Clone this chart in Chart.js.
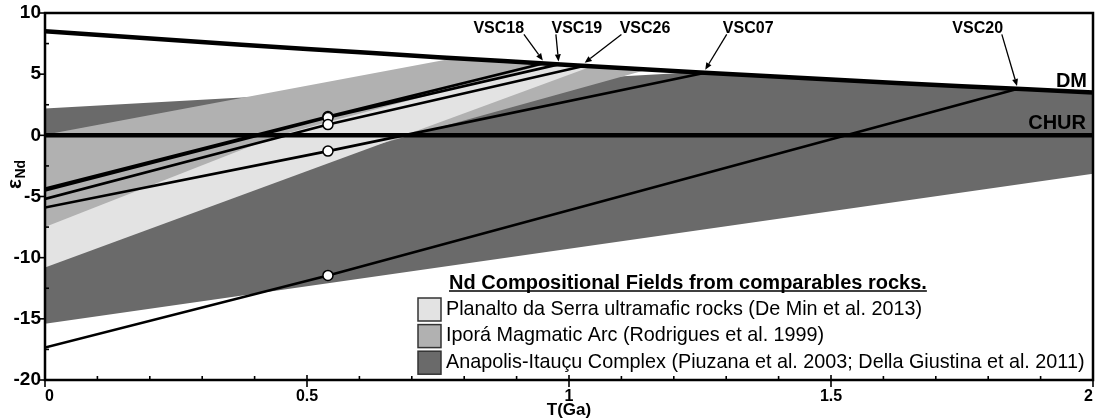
<!DOCTYPE html>
<html>
<head>
<meta charset="utf-8">
<script src="https://cdn.jsdelivr.net/npm/chart.js@4.4.1/dist/chart.umd.min.js"></script>
<style>
  html, body { margin: 0; padding: 0; background: #fff; }
  #wrap { width: 1095px; height: 418px; position: relative; }
</style>
</head>
<body>
<div id="wrap"><canvas id="c"></canvas></div>
<script>
// ---- Depleted mantle and CHUR reference curves ----
const dmAge = [0, 0.25, 0.5, 0.75, 1.0, 1.25, 1.5, 1.75, 2.0];
const dmEps = [8.5, 7.77, 7.06, 6.39, 5.75, 5.14, 4.56, 4.02, 3.5];
const churAge = [0, 2];
const churEps = [0, 0];

// ---- Samples: present-day eNd, eNd at crystallization age, model age on DM ----
const sampleIds  = ['VSC18', 'VSC19', 'VSC26', 'VSC07', 'VSC20'];
const epsPresent = [-4.35, -4.5, -5.2, -5.9, -17.35];
const crystAge   = [0.54, 0.54, 0.54, 0.54, 0.54];
const epsCryst   = [1.53, 1.45, 0.88, -1.29, -11.45];
const tdmAge     = [0.95, 0.98, 1.03, 1.26, 1.855];
const epsTdm     = [5.88, 5.80, 5.68, 5.12, 3.79];

// ---- Compositional fields (polygon outlines, T in Ga vs eNd) ----
const fieldNames = [
  'Planalto da Serra ultramafic rocks (De Min et al. 2013)',
  'Iporá Magmatic Arc (Rodrigues et al. 1999)',
  'Anapolis-Itauçu Complex (Piuzana et al. 2003; Della Giustina et al. 2011)'
];
const planaltoAge = [0, 0.44, 0.54, 0.96, 1.044, 0];
const planaltoEps = [-7.5, -0.1, 1.1, 5.85, 5.64, -10.8];
const iporaAge = [0, 0.78, 0.95, 1.15, 0];
const iporaEps = [0.05, 6.31, 5.88, 5.38, -8.31];
const anapolisAge = [0, 1.24, 1.5, 1.75, 2, 2, 0];
const anapolisEps = [2.19, 5.15, 4.56, 4.02, 3.5, -3.15, -15.4];

// ---- Axis ticks ----
const xTicks = [0, 0.5, 1, 1.5, 2];
const yTicks = [10, 5, 0, -5, -10, -15, -20];

// ---- Styling / placement (kept apart from the data) ----
const FONT = '"Liberation Sans", Arial, Helvetica, sans-serif';
const fieldColors = ['#e3e3e3', '#b1b1b1', '#6a6a6a'];
// callout label (baseline) and arrow-tail anchors, in axis units
const calloutPlacement = {
  VSC18: { labelT: 0.866, tailT: 0.914 },
  VSC19: { labelT: 1.015, tailT: 0.975 },
  VSC26: { labelT: 1.145, tailT: 1.100 },
  VSC07: { labelT: 1.342, tailT: 1.301 },
  VSC20: { labelT: 1.780, tailT: 1.826 }
};
const calloutLabelEps = 8.36;
const calloutTailEps = 8.25;

const pts = (xs, ys) => xs.map((v, i) => ({ x: v, y: ys[i] }));

const fieldDataset = (label, xs, ys, color, order) => ({
  label, data: pts(xs, ys), fill: 'shape', backgroundColor: color,
  borderWidth: 0, borderColor: color, pointRadius: 0, tension: 0, order
});

const datasets = [
  fieldDataset(fieldNames[2], anapolisAge, anapolisEps, fieldColors[2], 30),
  fieldDataset(fieldNames[1], iporaAge, iporaEps, fieldColors[1], 29),
  fieldDataset(fieldNames[0], planaltoAge, planaltoEps, fieldColors[0], 28),
  { label: 'CHUR', data: pts(churAge, churEps), borderColor: '#000', borderWidth: 4.5,
    pointRadius: 0, fill: false, order: 20 },
  { label: 'DM', data: pts(dmAge, dmEps), borderColor: '#000', borderWidth: 4.5,
    pointRadius: 0, fill: false, tension: 0.3, order: 19 }
];
sampleIds.forEach((id, i) => {
  datasets.push({
    label: id,
    data: [
      { x: 0, y: epsPresent[i] },
      { x: crystAge[i], y: epsCryst[i] },
      { x: tdmAge[i], y: epsTdm[i] }
    ],
    borderColor: '#000', borderWidth: 2.6, pointRadius: 0, fill: false, tension: 0,
    order: 10
  });
});
datasets.push({
  label: 'crystallization',
  data: pts(crystAge, epsCryst),
  showLine: false, pointRadius: 5, pointHoverRadius: 5,
  pointBackgroundColor: '#fff', pointBorderColor: '#000', pointBorderWidth: 1.5,
  fill: false, order: 1
});

const decorations = {
  id: 'decorations',
  afterDatasetsDraw(chart) {
    const { ctx, chartArea: a, scales: { x, y } } = chart;
    ctx.save();
    ctx.strokeStyle = '#000';
    ctx.fillStyle = '#000';

    // minor and major ticks
    ctx.lineWidth = 1.6;
    for (let k = 0; k <= 20; k++) {
      const px = x.getPixelForValue(k / 10);
      ctx.beginPath();
      if (k % 5 === 0) { ctx.moveTo(px, a.bottom - 5); ctx.lineTo(px, a.bottom + 7); }
      else { ctx.moveTo(px, a.bottom); ctx.lineTo(px, a.bottom - 4); }
      ctx.stroke();
    }
    for (let k = 0; k <= 12; k++) {
      const v = 10 - k * 2.5;
      const py = y.getPixelForValue(v);
      ctx.beginPath();
      if (k % 2 === 0) { ctx.moveTo(a.left - 6, py); ctx.lineTo(a.left, py); }
      else { ctx.moveTo(a.left, py); ctx.lineTo(a.left + 4, py); }
      ctx.stroke();
    }

    // frame
    ctx.lineWidth = 2.5;
    ctx.strokeRect(a.left, a.top, a.right - a.left, a.bottom - a.top);

    // curve labels
    ctx.font = 'bold 20px ' + FONT;
    ctx.textAlign = 'right';
    ctx.textBaseline = 'alphabetic';
    ctx.fillText('DM', a.right - 6, 87);
    ctx.fillText('CHUR', a.right - 7, 129);

    // sample callouts with arrows
    ctx.font = 'bold 16px ' + FONT;
    ctx.textAlign = 'center';
    ctx.lineWidth = 1.3;
    sampleIds.forEach((id, i) => {
      const p = calloutPlacement[id];
      const lx = x.getPixelForValue(p.labelT), ly = y.getPixelForValue(calloutLabelEps);
      ctx.fillText(id, lx, ly);
      const tx = x.getPixelForValue(p.tailT), ty = y.getPixelForValue(calloutTailEps);
      const hx = x.getPixelForValue(tdmAge[i]), hy = y.getPixelForValue(epsTdm[i]) - 3;
      const ang = Math.atan2(hy - ty, hx - tx);
      const L = 7, W = 3;
      const bx = hx - L * Math.cos(ang), by = hy - L * Math.sin(ang);
      ctx.beginPath(); ctx.moveTo(tx, ty); ctx.lineTo(bx, by); ctx.stroke();
      ctx.beginPath();
      ctx.moveTo(hx, hy);
      ctx.lineTo(bx + W * Math.sin(ang), by - W * Math.cos(ang));
      ctx.lineTo(bx - W * Math.sin(ang), by + W * Math.cos(ang));
      ctx.closePath(); ctx.fill();
    });

    // legend inside plot area
    const lgX = 418, lgTitleY = 288.5;
    ctx.textAlign = 'left';
    ctx.font = 'bold 20px ' + FONT;
    const title = 'Nd Compositional Fields from comparables rocks.';
    ctx.fillText(title, 449, lgTitleY);
    const tw = ctx.measureText(title).width;
    ctx.lineWidth = 1.5;
    ctx.beginPath(); ctx.moveTo(449, lgTitleY + 2.5); ctx.lineTo(449 + tw, lgTitleY + 2.5); ctx.stroke();
    ctx.font = '19.8px ' + FONT;
    fieldNames.forEach((name, i) => {
      const top = 298 + i * 26.6;
      ctx.fillStyle = fieldColors[i];
      ctx.fillRect(lgX, top, 23, 23);
      ctx.strokeStyle = '#333';
      ctx.lineWidth = 1.5;
      ctx.strokeRect(lgX, top, 23, 23);
      ctx.fillStyle = '#000';
      ctx.fillText(name, 446, top + 16.5);
    });

    // y-axis title: epsilon with Nd subscript
    ctx.save();
    ctx.translate(21, 189);
    ctx.rotate(-Math.PI / 2);
    ctx.textAlign = 'left';
    ctx.font = 'bold 21px ' + FONT;
    ctx.fillText('ε', 0, 0);
    const ew = ctx.measureText('ε').width;
    ctx.font = 'bold 14px ' + FONT;
    ctx.fillText('Nd', ew + 0.5, 4);
    ctx.restore();

    ctx.restore();
  }
};

Chart.defaults.font.family = FONT;
Chart.defaults.color = '#000';

// tick marks are drawn by the plugin; the library's own tick space only sets label offsets
const hiddenGrid = (len) => ({
  display: true, drawOnChartArea: false, drawTicks: true, tickLength: len,
  tickColor: 'rgba(0,0,0,0)', color: 'rgba(0,0,0,0)'
});

new Chart(document.getElementById('c'), {
  type: 'line',
  data: { datasets },
  options: {
    responsive: true,
    maintainAspectRatio: false,
    devicePixelRatio: 1,
    animation: false,
    events: [],
    layout: { autoPadding: false, padding: { top: 13, right: 2, left: 0, bottom: 0 } },
    plugins: { legend: { display: false }, tooltip: { enabled: false } },
    scales: {
      x: {
        type: 'linear', min: 0, max: 2,
        afterBuildTicks: s => { s.ticks = xTicks.map(v => ({ value: v })); },
        afterFit: s => { s.height = 38; },
        ticks: { font: { size: 16, weight: 'bold' }, color: '#000', padding: 0,
                 maxRotation: 0, autoSkip: false, align: 'inner',
                 callback: v => String(v) },
        grid: hiddenGrid(7),
        border: { display: false },
        title: { display: true, text: 'T(Ga)', font: { size: 17, weight: 'bold' },
                 color: '#000', padding: { top: 0, bottom: -3 } }
      },
      y: {
        type: 'linear', min: -20, max: 10,
        afterBuildTicks: s => { s.ticks = yTicks.map(v => ({ value: v })); },
        afterFit: s => { s.width = 45; },
        ticks: { font: { size: 19, weight: 'bold' }, color: '#000', padding: 0,
                 callback: v => String(v) },
        grid: hiddenGrid(4),
        border: { display: false }
      }
    }
  },
  plugins: [decorations]
});
</script>
</body>
</html>
